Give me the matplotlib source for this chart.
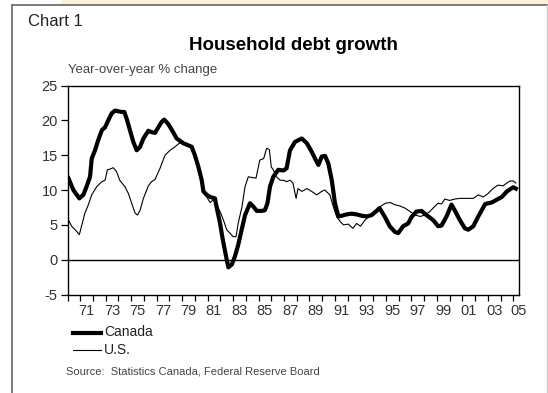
import matplotlib
matplotlib.use("Agg")
import matplotlib.pyplot as plt
from matplotlib import font_manager
from matplotlib.lines import Line2D
from matplotlib.patches import Rectangle

names = {f.name for f in font_manager.fontManager.ttflist}
if "Liberation Sans Narrow" in names:
    FONT = "Liberation Sans Narrow"
else:
    FONT = "Liberation Sans"
plt.rcParams['font.family'] = [FONT, 'DejaVu Sans']

# ---------------- data ----------------
canada_years = [1970.07, 1970.46, 1970.93, 1971.24, 1971.5, 1971.77, 1971.9, 1972.16, 1972.4, 1972.7,
                1972.95, 1973.2, 1973.47, 1973.73, 1974.0, 1974.25, 1974.46, 1974.65, 1974.9, 1975.17,
                1975.43, 1975.7, 1975.96, 1976.35, 1976.6, 1976.87, 1977.13, 1977.4, 1977.6, 1977.9,
                1978.2, 1978.57, 1978.8, 1979.1, 1979.5, 1979.75, 1980.0, 1980.28, 1980.54, 1980.67,
                1980.93, 1981.2, 1981.58, 1981.7, 1981.98, 1982.19, 1982.5, 1982.63, 1982.9, 1983.15,
                1983.4, 1983.7, 1983.94, 1984.33, 1984.6, 1984.86, 1985.25, 1985.5, 1985.7, 1985.9,
                1986.16, 1986.55, 1986.95, 1987.2, 1987.47, 1987.86, 1988.4, 1988.8, 1989.17, 1989.44,
                1989.7, 1989.96, 1990.22, 1990.48, 1990.75, 1991.0, 1991.27, 1991.53, 1991.92, 1992.3,
                1992.7, 1993.1, 1993.5, 1993.88, 1994.27, 1994.5, 1994.9, 1995.3, 1995.7, 1995.96,
                1996.35, 1996.75, 1997.0, 1997.4, 1997.8, 1998.18, 1998.7, 1999.1, 1999.37, 1999.76,
                2000.15, 2000.4, 2000.8, 2001.2, 2001.47, 2001.86, 2002.25, 2002.8, 2003.3, 2003.7,
                2004.1, 2004.5, 2005.0, 2005.2]
canada_values = [11.7, 10.0, 8.8, 9.3, 10.5, 11.9, 14.5, 15.7, 17.1, 18.6,
                 19.0, 20.0, 21.0, 21.4, 21.3, 21.2, 21.2, 20.2, 18.6, 16.9,
                 15.7, 16.2, 17.4, 18.5, 18.3, 18.2, 19.0, 19.8, 20.1, 19.5,
                 18.6, 17.4, 17.1, 16.7, 16.4, 16.2, 15.0, 13.3, 11.4, 9.8,
                 9.3, 9.0, 8.8, 7.6, 5.2, 2.9, 0.0, -1.1, -0.7, 0.5,
                 2.1, 4.5, 6.4, 8.1, 7.6, 7.0, 7.0, 7.1, 8.1, 10.5,
                 11.9, 12.9, 12.8, 13.1, 15.7, 16.9, 17.4, 16.7, 15.5, 14.5,
                 13.6, 14.8, 14.9, 13.8, 11.4, 8.1, 6.2, 6.3, 6.5, 6.6,
                 6.5, 6.3, 6.2, 6.4, 7.0, 7.4, 6.2, 4.8, 4.0, 3.8,
                 4.8, 5.2, 6.1, 6.9, 7.0, 6.4, 5.7, 4.8, 4.9, 6.2,
                 7.9, 7.1, 5.7, 4.5, 4.3, 4.8, 6.2, 8.0, 8.2, 8.6,
                 9.0, 9.8, 10.4, 10.2]

us_years = [1970.07, 1970.33, 1970.6, 1970.93, 1971.1, 1971.37, 1971.64, 1971.9, 1972.3, 1972.7,
            1972.95, 1973.13, 1973.34, 1973.6, 1973.86, 1974.1, 1974.5, 1974.78, 1975.04, 1975.3,
            1975.5, 1975.7, 1975.96, 1976.35, 1976.6, 1976.87, 1977.26, 1977.66, 1978.05, 1978.44,
            1978.7, 1978.97, 1979.2, 1979.6, 1979.9, 1980.15, 1980.4, 1980.67, 1980.93, 1981.2,
            1981.45, 1981.7, 1981.98, 1982.24, 1982.5, 1982.76, 1983.0, 1983.23, 1983.4, 1983.7,
            1983.94, 1984.2, 1984.46, 1984.8, 1985.1, 1985.4, 1985.64, 1985.85, 1986.0, 1986.16,
            1986.4, 1986.7, 1986.95, 1987.2, 1987.47, 1987.7, 1987.95, 1988.1, 1988.4, 1988.8,
            1989.17, 1989.57, 1989.96, 1990.2, 1990.6, 1990.87, 1991.13, 1991.4, 1991.66, 1992.05,
            1992.4, 1992.7, 1993.0, 1993.37, 1993.77, 1994.15, 1994.55, 1994.95, 1995.33, 1995.7,
            1996.1, 1996.5, 1996.9, 1997.3, 1997.7, 1998.05, 1998.44, 1998.7, 1999.1, 1999.37,
            1999.63, 2000.0, 2000.4, 2000.8, 2001.3, 2001.86, 2002.25, 2002.64, 2003.03, 2003.4,
            2003.8, 2004.2, 2004.5, 2004.75, 2005.0, 2005.2]
us_values = [5.7, 4.8, 4.3, 3.6, 4.8, 6.7, 7.9, 9.3, 10.5, 11.2,
             11.4, 12.9, 13.0, 13.2, 12.6, 11.4, 10.5, 9.5, 8.1, 6.7,
             6.4, 7.1, 8.8, 10.6, 11.2, 11.5, 13.1, 15.0, 15.7, 16.2,
             16.6, 16.9, 16.5, 16.2, 15.5, 14.0, 11.9, 10.0, 9.0, 8.2,
             8.6, 7.9, 6.9, 5.7, 4.3, 3.8, 3.3, 3.3, 5.2, 7.6,
             10.5, 11.9, 11.8, 11.7, 14.3, 14.5, 16.0, 15.8, 13.3, 12.9,
             11.9, 11.4, 11.4, 11.2, 11.4, 11.0, 8.8, 10.2, 9.8, 10.2,
             9.8, 9.3, 9.8, 10.0, 9.3, 7.6, 6.2, 5.5, 5.0, 5.1,
             4.5, 5.2, 4.8, 5.7, 6.4, 6.9, 7.6, 8.1, 8.2, 7.9,
             7.7, 7.4, 6.9, 6.4, 6.2, 6.4, 6.9, 7.4, 8.1, 8.0,
             8.7, 8.5, 8.7, 8.8, 8.8, 8.8, 9.3, 9.0, 9.5, 10.2,
             10.7, 10.6, 11.0, 11.3, 11.3, 11.0]

year_ticks = list(range(1970, 2006))
year_label_pos = [1971.5, 1973.5, 1975.5, 1977.5, 1979.5, 1981.5, 1983.5, 1985.5, 1987.5,
                  1989.5, 1991.5, 1993.5, 1995.5, 1997.5, 1999.5, 2001.5, 2003.5, 2005.45]
year_labels = ["71", "73", "75", "77", "79", "81", "83", "85", "87", "89",
               "91", "93", "95", "97", "99", "01", "03", "05"]
y_ticks = [-5, 0, 5, 10, 15, 20, 25]

# ---------------- figure ----------------
W, H = 548, 393
fig = plt.figure(figsize=(W / 100, H / 100), dpi=100)
fig.patch.set_facecolor("white")

def fx(px):
    return px / W

def fy(py):
    return 1 - py / H

# frame decorations
fig.add_artist(Rectangle((fx(62), fy(4.5)), 1 - fx(62), 4.5 / H, transform=fig.transFigure,
                         facecolor="#fdf0d4", edgecolor="none"))
fig.add_artist(Line2D([fx(12), 1], [fy(5), fy(5)], transform=fig.transFigure, color="#707070", lw=1.3))
fig.add_artist(Line2D([fx(12), fx(12)], [fy(5), 0], transform=fig.transFigure, color="#707070", lw=1.3))
fig.add_artist(Line2D([fx(546.5), fx(546.5)], [fy(5), 0], transform=fig.transFigure, color="#cccccc", lw=1.0))

ax = fig.add_axes([fx(67.5), fy(294.5), fx(519) - fx(67.5), fy(85.5) - fy(294.5)])
ax.plot(us_years, us_values, color="black", lw=0.8, zorder=3)
ax.plot(canada_years, canada_values, color="black", lw=3.0, solid_joinstyle="round", zorder=4)
ax.axhline(0, color="black", lw=1.0, zorder=2)

ax.set_xlim(1970, 2005.45)
ax.set_ylim(-5, 25)
ax.set_yticks(y_ticks)
ax.set_yticklabels([str(v) for v in y_ticks])
ax.set_xticks(year_ticks)
ax.set_xticklabels([])
ax.set_xticks(year_label_pos, minor=True)
ax.set_xticklabels(year_labels, minor=True)
ax.tick_params(axis="x", which="major", direction="out", length=4, width=0.9, color="black")
ax.tick_params(axis="x", which="minor", length=0, pad=6.5, labelsize=10.5, labelcolor="#333333")
ax.tick_params(axis="y", direction="out", length=5, width=0.9, pad=2, labelsize=10.5, labelcolor="#333333")
for s in ax.spines.values():
    s.set_color("black")
    s.set_linewidth(1.0)

# texts
fig.text(fx(28), fy(22), "Chart 1", fontsize=12, color="#222222", va="center", ha="left")
fig.text(fx(293), fy(45.5), "Household debt growth", fontsize=13.5, fontweight="bold",
         color="black", va="center", ha="center")
fig.text(fx(68), fy(70), "Year-over-year % change", fontsize=9.5, color="#444444",
         va="center", ha="left")

# legend
fig.add_artist(Line2D([fx(73), fx(101)], [fy(332.5), fy(332.5)], transform=fig.transFigure,
                      color="black", lw=3.0))
fig.add_artist(Line2D([fx(73), fx(101)], [fy(350), fy(350)], transform=fig.transFigure,
                      color="black", lw=0.8))
fig.text(fx(104), fy(332.5), "Canada", fontsize=10, color="#222222", va="center", ha="left")
fig.text(fx(104), fy(350), "U.S.", fontsize=10, color="#222222", va="center", ha="left")
fig.text(fx(66), fy(372), "Source:  Statistics Canada, Federal Reserve Board", fontsize=8,
         color="#444444", va="center", ha="left")

fig.savefig("out.png", dpi=100)
